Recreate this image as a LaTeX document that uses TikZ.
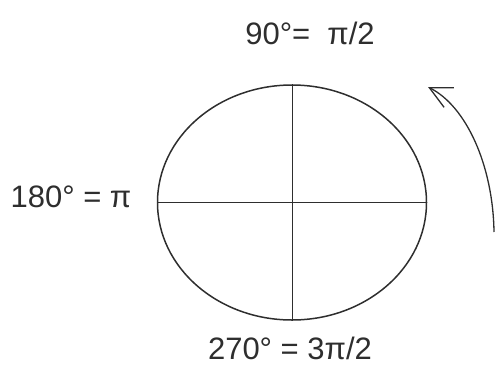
\documentclass[tikz,border=0pt]{standalone}
\usepackage{fontspec}
\setmainfont{Liberation Sans}
\usetikzlibrary{shapes.geometric,arrows.meta}
\definecolor{ink}{HTML}{2E2E2E}
\tikzset{
  lbl/.style={text=ink, font=\fontsize{31}{34}\selectfont, inner sep=0},
  circ/.style={draw=ink, line width=1.5pt, ellipse, minimum width=269pt, minimum height=235pt, inner sep=0},
  axis/.style={draw=ink, line width=1pt},
  rot/.style={draw=ink, line width=1.3pt, -{Straight Barb[length=22pt, width=22pt, line width=1.3pt]}}
}
\begin{document}
\begin{tikzpicture}[x=1pt, y=-1pt]
\useasboundingbox (0,0) rectangle (495,375);
\node[circ] (c) at (292,202.5) {};
\draw[axis] (c.north) -- (c.south);
\draw[axis] (c.west) -- (c.east);
\node[lbl] (t90) at (310,33) {90°=\ \ π/2};
\node[lbl] (t180) at (71,197) {180° = π};
\node[lbl] (t270) at (290,348) {270° = 3π/2};
\coordinate (s) at (494,232);
\coordinate (e) at (428,87);
\draw[rot] (s) .. controls (493,165) and (466,106) .. (e);
\end{tikzpicture}
\end{document}
